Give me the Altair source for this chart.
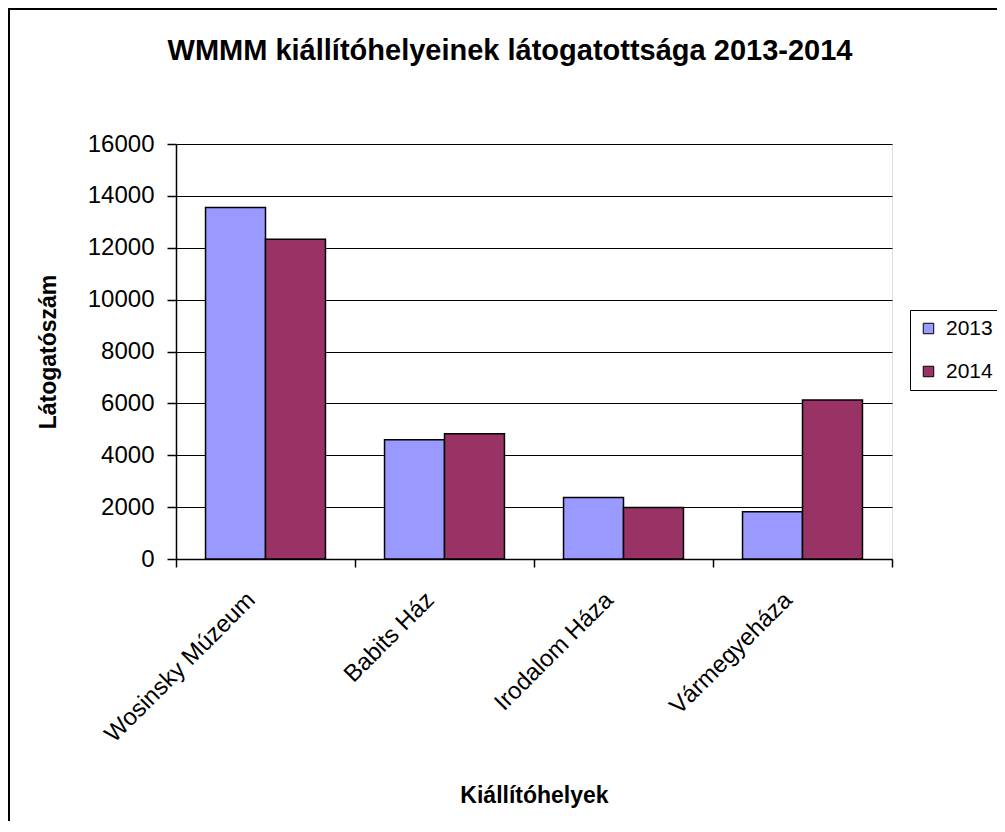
import altair as alt
import pandas as pd

# ---- data ----
sites = ["Wosinsky Múzeum", "Babits Ház", "Irodalom Háza", "Vármegyeháza"]
years = ["2013", "2014"]
v2013 = [13550, 4600, 2370, 1820]
v2014 = [12330, 4830, 1990, 6130]
y_ticks = [0, 2000, 4000, 6000, 8000, 10000, 12000, 14000, 16000]
boundaries = [0, 1, 2, 3, 4]          # category-boundary ticks on the x axis
colors = ["#9999FF", "#993366"]

rows = []
for s, a, b in zip(sites, v2013, v2014):
    rows.append({"site": s, "year": years[0], "value": a})
    rows.append({"site": s, "year": years[1], "value": b})
df = pd.DataFrame(rows)
tick_df = pd.DataFrame({"b": boundaries})

W, H = 716, 415
FONT = "Liberation Sans"

bars = alt.Chart(df).mark_bar(stroke="black", strokeWidth=1.5).encode(
    x=alt.X(
        "site:N", sort=sites,
        scale=alt.Scale(paddingInner=0.33, paddingOuter=0.165),
        axis=alt.Axis(
            orient="bottom", title="Kiállítóhelyek", labelAngle=-45,
            labelAlign="right", labelBaseline="middle", labelLimit=0,
            ticks=False, domainColor="black", domainWidth=1.5,
            labelFontSize=24, labelColor="black", labelFont=FONT,
            labelPadding=37, labelOffset=-14,
            titleFontSize=23, titleFont=FONT, titleFontWeight="bold",
            titleColor="black", titlePadding=38,
        ),
    ),
    xOffset=alt.XOffset("year:N", sort=years),
    y=alt.Y(
        "value:Q",
        scale=alt.Scale(domain=[0, 16000], nice=False),
        axis=alt.Axis(
            values=y_ticks, format="d", grid=True, gridColor="black", gridWidth=1,
            tickSize=9, tickColor="black", tickWidth=1.5,
            domainColor="black", domainWidth=1.5,
            labelFontSize=24, labelColor="black", labelFont=FONT, labelPadding=13,
            title="Látogatószám", titleFontSize=23, titleFont=FONT,
            titleFontWeight="bold", titleColor="black", titlePadding=27,
        ),
    ),
    color=alt.Color(
        "year:N",
        scale=alt.Scale(domain=years, range=colors),
        legend=alt.Legend(
            title=None, orient="none", legendX=734, legendY=166,
            strokeColor="black", fillColor="white", padding=8,
            symbolType="square", symbolSize=110, symbolStrokeColor="black",
            symbolStrokeWidth=1, labelFontSize=21, labelFont=FONT,
            labelColor="black", labelOffset=7, rowPadding=21,
        ),
    ),
)

bticks = alt.Chart(tick_df).mark_rule(opacity=0).encode(
    x=alt.X(
        "b:Q",
        scale=alt.Scale(domain=[0, 4], nice=False, zero=False),
        axis=alt.Axis(
            orient="bottom", values=boundaries, labels=False, ticks=True,
            tickSize=8, tickColor="black", tickWidth=1.5, domain=False,
            grid=False, title=None,
        ),
    )
)

one = alt.Data(values=[{"k": 1}])
border_top = alt.Chart(one).mark_rule(color="black", strokeWidth=2).encode(
    x=alt.value(-168), x2=alt.value(W + 110), y=alt.value(-135)
)
border_left = alt.Chart(one).mark_rule(color="black", strokeWidth=2).encode(
    x=alt.value(-167), y=alt.value(-136), y2=alt.value(H + 270)
)

chart = (
    alt.layer(bticks, bars, border_top, border_left)
    .resolve_scale(x="independent")
    .resolve_axis(x="independent")
    .properties(
        width=W, height=H,
        autosize=alt.AutoSizeParams(type="none"),
        padding={"left": 168, "top": 136, "right": 105, "bottom": 262},
        title=alt.TitleParams(
            "WMMM kiállítóhelyeinek látogatottsága 2013-2014",
            font=FONT, fontSize=29, fontWeight="bold", color="black",
            anchor="middle", frame="group", dx=-24, offset=0,
            baseline="alphabetic", dy=82,
        ),
    )
    .configure_view(stroke=None)
    .configure(background="white")
)

chart.save("out.html", embed_options={"renderer": "svg", "actions": False})
